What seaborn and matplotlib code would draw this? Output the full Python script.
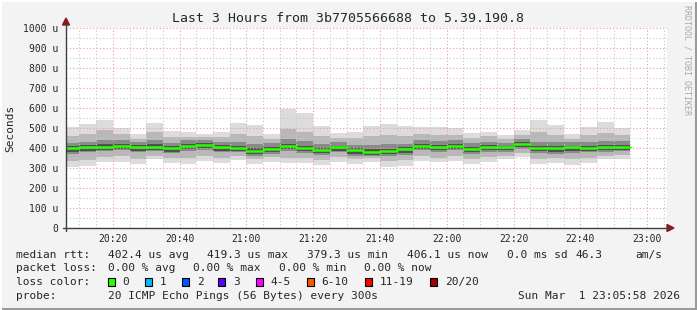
import numpy as np
import pandas as pd
import matplotlib
matplotlib.use("Agg")
import matplotlib.pyplot as plt
import seaborn as sns
from matplotlib.patches import Rectangle, Polygon
from matplotlib.lines import Line2D

# ---------------- data ----------------
bar_start = pd.date_range("2026-03-01 20:05", periods=34, freq="5min")
window_end = pd.Timestamp("2026-03-01 23:05:58")
window_start = window_end - pd.Timedelta(hours=3)

median_rtt = [398, 403, 407, 412, 405, 407, 398, 412, 417, 405, 402, 387, 397, 412, 402, 392, 403,
              388, 382, 387, 393, 412, 405, 412, 397, 405, 403, 420, 400, 400, 403, 402, 403, 407]
ping_max = [505, 520, 540, 500, 470, 525, 487, 478, 470, 482, 525, 515, 470, 597, 577, 510, 475,
            482, 508, 522, 508, 503, 505, 500, 475, 482, 465, 492, 542, 515, 470, 505, 530, 498]
ping_p90 = [460, 470, 490, 470, 445, 480, 455, 455, 455, 455, 470, 460, 445, 495, 480, 460, 450,
            450, 460, 465, 460, 470, 465, 465, 450, 460, 445, 465, 480, 465, 445, 465, 475, 465]
ping_p75 = [425, 430, 440, 440, 430, 440, 425, 440, 440, 430, 430, 420, 425, 445, 435, 420, 430,
            415, 415, 420, 420, 440, 435, 440, 425, 430, 425, 445, 430, 430, 430, 430, 435, 435]
ping_p60 = [408, 413, 418, 420, 414, 418, 408, 420, 426, 414, 412, 398, 406, 422, 412, 402, 412,
            398, 393, 397, 403, 421, 415, 421, 407, 414, 412, 428, 410, 410, 412, 412, 414, 417]
ping_p40 = [380, 385, 390, 395, 387, 392, 382, 395, 400, 387, 386, 370, 380, 395, 385, 375, 387,
            372, 366, 370, 377, 395, 388, 395, 381, 388, 388, 403, 383, 382, 386, 385, 388, 392]
ping_p25 = [372, 378, 385, 388, 378, 385, 375, 385, 392, 380, 378, 360, 372, 385, 375, 365, 380,
            362, 358, 360, 365, 388, 380, 388, 372, 380, 380, 395, 375, 372, 375, 378, 382, 385]
ping_p10 = [335, 340, 355, 358, 345, 362, 350, 350, 360, 350, 360, 345, 355, 350, 350, 340, 355,
            345, 350, 335, 340, 358, 352, 360, 345, 355, 362, 375, 345, 348, 345, 352, 362, 365]
ping_min = [307, 310, 332, 332, 320, 343, 327, 320, 337, 327, 340, 320, 332, 323, 327, 315, 332,
            320, 332, 307, 312, 335, 330, 335, 320, 332, 343, 355, 318, 323, 315, 327, 343, 343]

y_ticks = [0, 100, 200, 300, 400, 500, 600, 700, 800, 900, 1000]
y_labels = ["0", "100 u", "200 u", "300 u", "400 u", "500 u", "600 u", "700 u", "800 u", "900 u", "1000 u"]
x_tick_labels = ["20:20", "20:40", "21:00", "21:20", "21:40", "22:00", "22:20", "22:40", "23:00"]

title = "Last 3 Hours from 3b7705566688 to 5.39.190.8"
loss_labels = ["0", "1", "2", "3", "4-5", "6-10", "11-19", "20/20"]
loss_colors = ["#26ff00", "#00b8ff", "#0059ff", "#5e00ff", "#ff00ff", "#ff5500", "#ff0000", "#a10000"]

# ---------------- helpers ----------------
W, H = 697, 310
def fx(x): return x / W
def fy(y): return 1 - y / H

ref = pd.Timestamp("2026-03-01 20:00")
def to_min(t): return (t - ref).total_seconds() / 60.0

starts = np.array([to_min(t) for t in bar_start])
step = 5.0
x0, x1 = to_min(window_start), to_min(window_end)

sns.set_style("white")
plt.rcParams["font.family"] = ["DejaVu Sans Mono"]

fig = plt.figure(figsize=(W / 100, H / 100), dpi=100)
fig.patch.set_facecolor("#f3f3f3")

ax = fig.add_axes([fx(66), fy(228), (667 - 66) / W, 200 / H])
ax.set_facecolor("white")

# smoke bands (outer light -> inner dark)
bands = [(ping_min, ping_max, "#dcdcdc"),
         (ping_p10, ping_p90, "#b8b8b8"),
         (ping_p25, ping_p75, "#8a8a8a"),
         (ping_p40, ping_p60, "#505050")]
for lo, hi, col in bands:
    lo = np.array(lo, float); hi = np.array(hi, float)
    ax.bar(starts, hi - lo, bottom=lo, width=step, align="edge", color=col,
           linewidth=0, zorder=1)

# median segments via seaborn
seg = pd.DataFrame({
    "x": np.concatenate([starts, starts + step]),
    "y": np.concatenate([median_rtt, median_rtt]),
    "unit": np.concatenate([np.arange(len(starts)), np.arange(len(starts))]),
})
sns.lineplot(data=seg, x="x", y="y", units="unit", estimator=None, color="#26ff00",
             linewidth=1.8, ax=ax, zorder=4, legend=False)

ax.set_xlim(x0, x1)
ax.set_ylim(0, 1000)
xt = np.arange(20, 181, 20)
ax.set_xticks(xt)
ax.set_xticklabels(x_tick_labels)
ax.set_xticks(np.arange(10, x1, 5), minor=True)
ax.set_yticks(y_ticks)
ax.set_yticklabels(y_labels)
ax.set_yticks(np.arange(50, 1000, 100), minor=True)
ax.set_axisbelow(False)
ax.grid(which="minor", color="#c8c8c8", linestyle=(0, (1, 2)), linewidth=0.8, zorder=2.5)
ax.grid(which="major", color="#ee9a9a", linestyle=(0, (1, 2)), linewidth=0.8, zorder=2.6)
ax.tick_params(which="major", length=2, color="#e08080", labelsize=7, pad=3.5)
ax.tick_params(which="minor", length=0)
ax.tick_params(axis="x", pad=2.5)
ax.set_xlabel(""); ax.set_ylabel("")
for s in ax.spines.values():
    s.set_visible(False)

# axis lines with arrows
axc = "#404040"
fig.add_artist(Line2D([fx(63), fx(670)], [fy(228), fy(228)], color=axc, lw=1.0, transform=fig.transFigure))
fig.add_artist(Line2D([fx(66), fx(66)], [fy(231), fy(22)], color=axc, lw=1.0, transform=fig.transFigure))
fig.add_artist(Polygon([[fx(667), fy(224.5)], [fx(674), fy(228)], [fx(667), fy(231.5)]], closed=True,
                       color="#8b1a1a", transform=fig.transFigure))
fig.add_artist(Polygon([[fx(62.5), fy(25)], [fx(66), fy(18)], [fx(69.5), fy(25)]], closed=True,
                       color="#8b1a1a", transform=fig.transFigure))

# titles
fig.text(fx(348.5), fy(19), title, ha="center", va="center", fontsize=9.5)
fig.text(fx(10), fy(128), "Seconds", ha="center", va="center", rotation=90, fontsize=8)
fig.text(fx(687), fy(60), "RRDTOOL / TOBI OETIKER", ha="center", va="center", rotation=270,
         fontsize=6, color="#a8a8a8")

# legend texts
fs = 8
def t(x, y, s, **kw):
    fig.text(fx(x), fy(y), s, ha="left", va="center", fontsize=fs, **kw)

y1, y2, y3, y4 = 254.7, 268.3, 282.3, 296
t(16.4, y1, "median rtt:")
t(107.6, y1, "402.4 us avg")
t(207, y1, "419.3 us max")
t(306.7, y1, "379.3 us min")
t(406.7, y1, "406.1 us now")
t(506.7, y1, "0.0 ms sd")
t(575.6, y1, "46.3")
t(635.6, y1, "am/s")

t(16.4, y2, "packet loss:")
t(107.6, y2, "0.00 % avg")
t(193.3, y2, "0.00 % max")
t(279, y2, "0.00 % min")
t(364.4, y2, "0.00 % now")

t(16.4, y3, "loss color:")
box_x = [108.3, 145, 181.7, 218.3, 256, 306.7, 365.3, 430.2]
lab_x = [122.7, 159.3, 196.7, 233.3, 270, 321.7, 380, 445.3]
for bx, lx, lab, col in zip(box_x, lab_x, loss_labels, loss_colors):
    fig.add_artist(Rectangle((fx(bx), fy(286)), 7 / W, 8 / H, facecolor=col, edgecolor="black",
                             linewidth=0.8, transform=fig.transFigure))
    t(lx, y3, lab)

t(16.4, y4, "probe:")
t(107.6, y4, "20 ICMP Echo Pings (56 Bytes) every 300s")
fig.text(fx(680), fy(y4), "Sun Mar  1 23:05:58 2026", ha="right", va="center", fontsize=fs)

# frame
fig.add_artist(Line2D([0, 1], [fy(309), fy(309)], color="#9a9a9a", lw=1.5, transform=fig.transFigure))
fig.add_artist(Line2D([fx(696), fx(696)], [0, 1], color="#9a9a9a", lw=1.5, transform=fig.transFigure))
fig.add_artist(Line2D([0, 1], [fy(0.5), fy(0.5)], color="#ffffff", lw=1.5, transform=fig.transFigure))
fig.add_artist(Line2D([fx(0.5), fx(0.5)], [0, 1], color="#ffffff", lw=1.5, transform=fig.transFigure))

fig.savefig("out.png", dpi=100, facecolor=fig.get_facecolor())
